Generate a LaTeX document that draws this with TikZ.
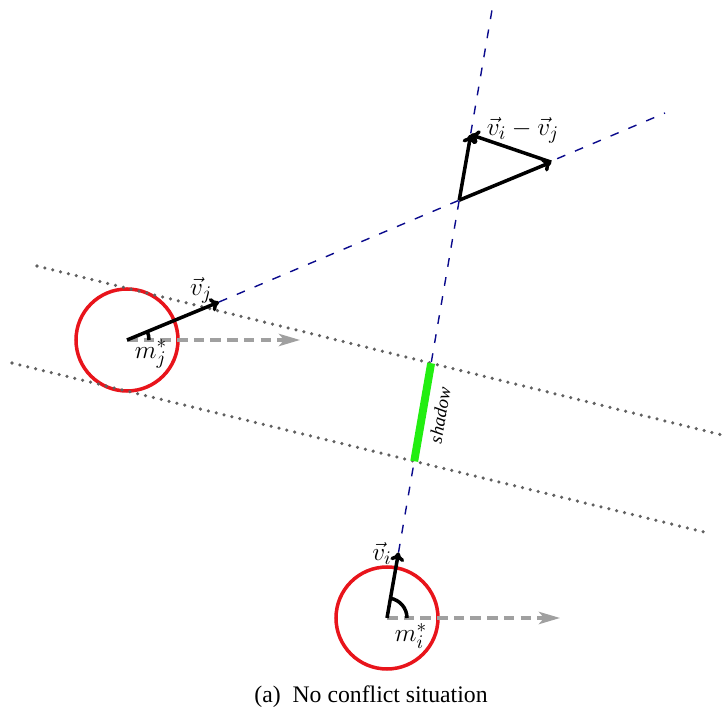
\documentclass[tikz,border=0pt]{standalone}
\usepackage{fontspec}
\setmainfont{Liberation Serif}
\usepackage{tikz}
\usetikzlibrary{arrows.meta,calc}
\definecolor{agentred}{HTML}{E8141B}
\definecolor{linkblue}{HTML}{0A0A8C}
\definecolor{shadowgreen}{HTML}{22EE11}
\definecolor{dotgrey}{HTML}{606060}
\definecolor{movegrey}{HTML}{A0A0A0}

\begin{document}
\begin{tikzpicture}[font=\fontsize{13.5}{16}\selectfont,
 agent/.style={draw=agentred,line width=2pt,circle,minimum size=2.04cm,inner sep=0pt},
 velo/.style={draw=black,line width=2pt,-{To[length=5pt,width=8pt]}},
 anglemark/.style={draw=black,line width=2pt},
 ray/.style={draw=linkblue,line width=0.8pt,dash pattern=on 5pt off 6pt},
 tangent/.style={draw=dotgrey,line width=2pt,line cap=round,dash pattern=on 0pt off 4.6pt},
 heading/.style={draw=movegrey,line width=2pt,dash pattern=on 6pt off 3.5pt,-{Stealth[length=12pt,width=7pt,inset=3pt]}},
 shadowbar/.style={draw=shadowgreen,line width=4.5pt},
 vlabel/.style={font=\fontsize{15}{17}\selectfont}]
\useasboundingbox (0,0) rectangle (14.54,14.34);
\node[agent] (cj) at (2.54,7.54) {};
\node[agent] (ci) at (7.74,1.98) {};
\coordinate (vj) at (4.38,8.30);
\coordinate (vi) at (7.97,3.29);
\coordinate (ej) at (13.30,12.08);
\coordinate (ei) at (9.84,14.14);
\coordinate (hj) at (6.0,7.54);
\coordinate (hi) at (11.2,1.98);
\coordinate (d1a) at (0.74,9.02);
\coordinate (d1b) at (14.44,5.64);
\coordinate (d2a) at (0.24,7.08);
\coordinate (d2b) at (14.16,3.68);
\coordinate (p) at (intersection of vj--ej and vi--ei);
\coordinate (q) at ($(p)+(vj)-(cj.center)$);
\coordinate (r) at ($(p)+(vi)-(ci.center)$);
\coordinate (s1) at (intersection of vi--ei and d1a--d1b);
\coordinate (s2) at (intersection of vi--ei and d2a--d2b);
\draw[tangent] (d1a) -- (d1b);
\draw[tangent] (d2a) -- (d2b);
\draw[ray] (vj) -- (ej);
\draw[ray] (vi) -- (ei);
\draw[heading] (cj.center) -- (hj);
\draw[heading] (ci.center) -- (hi);
\draw[shadowbar] (s2) -- node[sloped,below,font=\fontsize{10.5}{12}\selectfont\itshape,inner sep=4pt] (shadowlbl) {shadow} (s1);
\draw[velo] (cj.center) -- (vj);
\draw[velo] (ci.center) -- (vi);
\draw[anglemark] ($(cj.center)+(0.44,0)$) arc[start angle=0,end angle=22.4,radius=0.44];
\draw[anglemark] ($(ci.center)+(0.40,0)$) arc[start angle=0,end angle=80.5,radius=0.40];
\draw[velo] (p) -- (q);
\draw[velo] (p) -- (r);
\draw[velo] (q) -- (r);
\node[vlabel] (vjlbl) at (4.02,8.54) {$\vec{v}_j$};
\node[vlabel] (vilbl) at (7.64,3.28) {$\vec{v}_i$};
\node[vlabel] (dvlbl) at (10.46,11.74) {$\vec{v}_i-\vec{v}_j$};
\node[vlabel] (mjlbl) at (3.02,7.26) {$m_j^*$};
\node[vlabel] (milbl) at (8.22,1.62) {$m_i^*$};
\node (caption) at (7.42,0.40) {(a)\enspace No conflict situation};
\end{tikzpicture}
\end{document}
